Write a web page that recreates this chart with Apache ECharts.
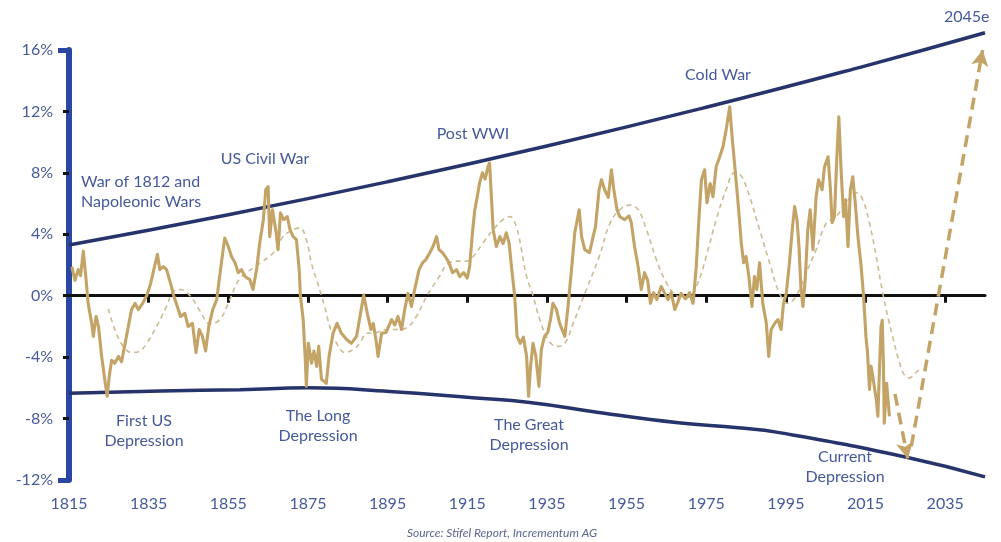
<!DOCTYPE html>
<html>
<head>
<meta charset="utf-8">
<script src="https://cdn.jsdelivr.net/npm/echarts@6/dist/echarts.min.js"></script>
<style>
  html, body { margin: 0; padding: 0; background: #ffffff; }
  #chart { width: 1001px; height: 542px; }
</style>
</head>
<body>
<div id="chart"></div>
<script>
// Year labels along the bottom and tick marks on the zero line
const yearLabels = [1815, 1835, 1855, 1875, 1895, 1915, 1935, 1955, 1975, 1995, 2015, 2035];
const zeroLineTicks = [1835, 1855, 1875, 1895, 1915, 1935, 1955, 1975, 1995, 2015, 2035];

// Cycle readings, [year, %]
const cycleReadings = [
  [1815.7, 1.9], [1816.5, 1.0], [1817.3, 1.7], [1817.9, 1.3], [1818.6, 2.9], [1819.3, 1.0],
  [1819.8, -0.5], [1820.7, -1.8], [1821.1, -2.65], [1821.8, -1.35], [1822.4, -2.0], [1823.2, -3.95],
  [1824.0, -5.5], [1824.6, -6.55], [1825.1, -5.25], [1825.7, -4.2], [1826.5, -4.4], [1827.4, -3.95],
  [1828.2, -4.3], [1829.1, -3.1], [1829.9, -2.0], [1830.7, -0.9], [1831.6, -0.5], [1832.4, -0.9],
  [1833.5, -0.5], [1834.5, 0.0], [1835.5, 0.8], [1836.3, 1.7], [1837.2, 2.7], [1837.8, 1.7],
  [1838.7, 1.9], [1839.5, 1.7], [1840.5, 0.8], [1841.3, 0.0], [1842.2, -0.7], [1843.0, -1.35],
  [1844.1, -1.15], [1844.9, -2.0], [1846.0, -1.8], [1846.9, -3.7], [1847.7, -2.2], [1848.5, -2.65],
  [1849.3, -3.6], [1850.1, -2.0], [1851.1, -0.9], [1852.1, -0.25], [1852.7, 1.0], [1853.6, 2.8],
  [1854.1, 3.75], [1855.0, 3.2], [1855.8, 2.55], [1856.7, 2.15], [1857.5, 1.5], [1858.3, 1.7],
  [1859.2, 1.25], [1860.4, 1.05], [1861.2, 0.4], [1862.1, 1.7], [1862.9, 3.45], [1863.8, 4.95],
  [1864.4, 6.9], [1865.0, 7.1], [1865.4, 3.85], [1866.1, 5.6], [1866.9, 4.3], [1867.5, 3.0],
  [1868.1, 5.4], [1868.9, 4.95], [1869.8, 5.15], [1870.5, 4.3], [1871.3, 3.85], [1872.1, 3.65],
  [1872.8, 1.7], [1873.1, 0.0], [1873.8, -1.55], [1874.3, -4.0], [1874.6, -5.9], [1875.1, -3.1],
  [1875.9, -4.4], [1876.5, -3.6], [1877.2, -4.6], [1877.7, -3.3], [1878.4, -5.45], [1879.6, -5.7],
  [1880.3, -3.95], [1881.3, -2.45], [1882.3, -1.8], [1883.4, -2.45], [1884.7, -2.85], [1885.9, -3.1],
  [1887.2, -2.65], [1888.2, -1.15], [1889.0, 0.05], [1889.9, -1.15], [1890.8, -2.2], [1891.4, -1.8],
  [1892.2, -3.1], [1892.6, -3.95], [1893.5, -2.45], [1894.6, -2.4], [1896.0, -1.55], [1896.8, -1.9],
  [1897.6, -1.35], [1898.5, -2.2], [1899.3, -0.9], [1900.1, 0.15], [1901.0, -0.7], [1901.8, 0.4],
  [1902.9, 1.7], [1903.8, 2.15], [1904.6, 2.35], [1905.6, 2.8], [1906.4, 3.2], [1907.3, 3.85],
  [1907.9, 3.0], [1908.8, 2.8], [1909.6, 2.5], [1910.4, 2.15], [1911.3, 1.5], [1912.3, 1.7],
  [1913.1, 1.25], [1914.1, 1.5], [1915.0, 1.15], [1915.6, 1.9], [1916.3, 4.1], [1916.9, 5.6],
  [1917.5, 6.45], [1918.1, 7.35], [1918.8, 8.0], [1919.5, 7.6], [1920.2, 8.4], [1920.6, 8.65],
  [1921.1, 6.25], [1921.5, 4.3], [1922.3, 3.2], [1923.2, 3.85], [1924.0, 3.4], [1924.8, 4.1],
  [1925.5, 3.45], [1926.1, 1.9], [1926.9, 0.0], [1927.5, -2.65], [1928.3, -3.1], [1929.1, -2.7],
  [1929.9, -3.95], [1930.4, -6.55], [1930.9, -4.6], [1931.5, -3.1], [1932.2, -3.9], [1933.0, -5.9],
  [1933.6, -3.5], [1934.4, -2.65], [1935.2, -2.4], [1935.9, -1.55], [1936.5, -0.5], [1937.4, -0.9],
  [1938.2, -1.8], [1939.5, -2.65], [1940.3, -0.7], [1941.1, 1.5], [1942.0, 4.1], [1943.1, 5.6],
  [1943.7, 3.85], [1944.5, 3.0], [1945.7, 2.8], [1946.6, 3.85], [1947.2, 4.5], [1948.1, 6.9],
  [1948.7, 7.55], [1949.5, 6.9], [1950.4, 6.4], [1951.2, 8.2], [1951.8, 6.9], [1952.6, 5.6],
  [1953.3, 5.15], [1954.5, 4.95], [1955.6, 5.2], [1956.2, 4.75], [1957.0, 3.2], [1957.9, 1.9],
  [1958.7, 0.4], [1959.5, 1.5], [1960.3, 1.0], [1961.0, -0.5], [1961.8, 0.2], [1962.6, -0.25],
  [1963.7, 0.6], [1964.5, 0.2], [1965.4, -0.25], [1966.2, 0.2], [1967.1, -0.9], [1967.9, -0.4],
  [1968.7, 0.15], [1969.8, -0.2], [1970.8, 0.2], [1971.7, -0.5], [1972.5, 1.9], [1973.2, 5.15],
  [1973.8, 7.55], [1974.6, 8.2], [1975.2, 6.05], [1976.0, 7.3], [1976.7, 6.45], [1977.5, 8.4],
  [1978.4, 9.05], [1979.2, 9.7], [1980.0, 10.8], [1980.9, 12.3], [1981.5, 10.35], [1982.1, 8.65],
  [1983.0, 6.05], [1983.8, 3.45], [1984.4, 2.15], [1985.0, 2.55], [1985.7, 1.25], [1986.5, -0.7],
  [1987.1, 1.25], [1987.7, 0.4], [1988.4, 2.15], [1989.2, -0.5], [1990.1, -1.8], [1990.7, -3.95],
  [1991.3, -2.2], [1992.2, -1.8], [1993.0, -1.55], [1993.8, -2.2], [1994.4, -0.5], [1995.1, 0.15],
  [1995.9, 2.15], [1996.6, 4.3], [1997.2, 5.8], [1997.8, 4.95], [1998.3, 3.2], [1998.8, 0.4],
  [1999.3, -0.7], [1999.9, 1.25], [2000.5, 4.3], [2001.1, 5.6], [2001.8, 3.0], [2002.6, 6.45],
  [2003.2, 7.55], [2004.1, 6.9], [2004.7, 8.4], [2005.6, 9.05], [2006.2, 6.9], [2006.6, 4.75],
  [2007.2, 5.15], [2007.8, 9.05], [2008.3, 11.65], [2008.9, 8.0], [2009.5, 5.15], [2010.0, 6.25],
  [2010.6, 3.2], [2011.2, 6.9], [2011.8, 7.75], [2012.5, 5.8], [2013.1, 3.85], [2013.9, 1.9],
  [2014.5, 0.0], [2015.1, -2.65], [2015.5, -3.7], [2016.0, -6.1], [2016.4, -4.6], [2016.8, -5.2],
  [2017.3, -6.1], [2017.7, -6.75], [2018.1, -7.85], [2018.5, -4.8], [2018.9, -2.0], [2019.2, -1.6],
  [2019.5, -4.5], [2019.7, -8.3], [2020.3, -5.7], [2021.0, -7.85]
];

// Smoothed cycle, [year, %]
const smoothedCycle = [
  [1824.9, -0.85], [1826.5, -2.2], [1828.6, -3.3], [1830.7, -3.7], [1832.8, -3.6], [1834.5, -3.1],
  [1837.0, -2.0], [1839.5, -0.7], [1841.2, 0.3], [1842.9, 0.4], [1845.4, 0.0], [1847.9, -1.0],
  [1850.4, -1.85], [1852.9, -1.55], [1855.4, -0.25], [1857.9, 1.1], [1862.9, 2.1], [1866.3, 2.8],
  [1868.8, 3.85], [1871.3, 4.3], [1873.0, 4.4], [1874.6, 3.65], [1875.9, 2.1], [1877.2, 1.0],
  [1878.4, 0.0], [1879.2, -0.7], [1880.5, -2.0], [1882.2, -3.1], [1884.3, -3.7], [1886.4, -3.5],
  [1888.0, -3.1], [1889.7, -2.45], [1892.2, -2.4], [1894.7, -2.2], [1897.2, -2.2], [1899.7, -2.1],
  [1902.2, -1.35], [1904.9, 0.0], [1908.1, 1.3], [1909.8, 2.0], [1912.3, 2.25], [1914.8, 2.25],
  [1916.5, 2.55], [1919.0, 3.45], [1921.5, 4.3], [1924.0, 4.95], [1925.7, 5.15], [1927.3, 4.5],
  [1928.6, 3.0], [1929.9, 1.25], [1931.5, 0.0], [1933.2, -1.55], [1935.3, -2.85], [1937.4, -3.3],
  [1939.5, -3.1], [1941.6, -1.8], [1944.9, 0.4], [1948.2, 2.6], [1950.8, 4.7], [1953.3, 5.6],
  [1955.8, 5.9], [1957.9, 5.6], [1960.0, 4.3], [1962.5, 2.35], [1965.0, 0.85], [1967.5, 0.0],
  [1970.0, -0.15], [1972.5, 0.6], [1975.0, 2.55], [1977.5, 4.95], [1980.0, 6.9], [1982.1, 8.0],
  [1983.8, 7.8], [1985.9, 6.45], [1988.4, 4.3], [1990.9, 2.15], [1993.4, 0.15], [1995.5, -0.5],
  [1997.6, 0.0], [2000.1, 1.5], [2002.6, 3.0], [2005.1, 4.7], [2007.6, 5.15], [2010.1, 6.05],
  [2012.7, 6.7], [2014.3, 6.25], [2016.0, 4.7], [2017.7, 2.55], [2019.3, 0.2], [2021.8, -2.65],
  [2024.4, -5.0], [2026.0, -5.35], [2027.7, -5.0], [2029.0, -4.7]
];

// Upper and lower envelope, [year, %]
const upperBound = [[1815, 3.3], [1855, 5.27], [1895, 7.42], [1935, 9.75], [1975, 12.27], [2015, 14.97], [2045, 17.12]];
const lowerBound = [
  [1815, -6.35], [1838, -6.2], [1858, -6.12], [1875, -6.0], [1895.5, -6.23], [1916.4, -6.64],
  [1930.7, -6.95], [1948, -7.6], [1968, -8.27], [1983, -8.6], [1993, -8.9], [2025, -10.5], [2045, -11.8]
];

// Projected swings: down into the trough, then up to 2045
const forecastDown = [[2022.4, -6.4], [2025.6, -10.6]];
const forecastUp = [[2026.5, -9.8], [2044.4, 16.0]];

const GOLD = '#C3A466';
const GOLD_LIGHT = '#CDBB93';
const NAVY = '#27336B';
const AXIS_BLUE = '#2B46A3';
const TEXT = '#45599B';
const FONT = 'Lato, "Open Sans", sans-serif';

const chart = echarts.init(document.getElementById('chart'), null, { renderer: 'canvas' });

function note(text, x, y, align) {
  return {
    type: 'text', x: x, y: y, z: 20, silent: true,
    style: {
      text: text, fill: TEXT, font: '16px ' + FONT,
      textAlign: align || 'center', textVerticalAlign: 'middle', lineHeight: 20
    }
  };
}

const option = {
  animation: false,
  backgroundColor: '#ffffff',
  grid: { left: 69, right: 16, top: 50, bottom: 62, containLabel: false },
  xAxis: [
    {
      type: 'value', min: 1815, max: 2045, position: 'bottom',
      axisLine: { show: false }, axisTick: { show: false }, splitLine: { show: false },
      axisLabel: {
        customValues: yearLabels, color: TEXT, fontSize: 16, fontFamily: FONT, margin: 16,
        formatter: v => String(v)
      }
    },
    {
      type: 'value', min: 1815, max: 2045, position: 'bottom',
      axisLine: { show: true, onZero: true, onZeroAxisIndex: 0, lineStyle: { color: '#111111', width: 3 } },
      axisTick: { show: true, customValues: zeroLineTicks, inside: false, length: 7, lineStyle: { color: '#111111', width: 3 } },
      axisLabel: { show: false }, splitLine: { show: false }
    }
  ],
  yAxis: [
    {
      type: 'value', min: -12, max: 16, interval: 4, position: 'left',
      axisLine: { show: true, lineStyle: { color: AXIS_BLUE, width: 6 } },
      axisTick: { show: true, length: 6, lineStyle: { color: '#111111', width: 3 } },
      axisLabel: { color: TEXT, fontSize: 16, fontFamily: FONT, margin: 16, formatter: v => v + '%' },
      splitLine: { show: false }
    },
    {
      type: 'value', min: -12, max: 16, interval: 28, position: 'left',
      axisLine: { show: false },
      axisTick: { show: true, length: 11, lineStyle: { color: AXIS_BLUE, width: 5 } },
      axisLabel: { show: false }, splitLine: { show: false }
    }
  ],
  series: [
    {
      name: 'Upper bound', type: 'line', data: upperBound, smooth: true, symbol: 'none', z: 3,
      clip: false, lineStyle: { color: NAVY, width: 3.5 }, silent: true
    },
    {
      name: 'Lower bound', type: 'line', data: lowerBound, smooth: true, symbol: 'none', z: 3,
      clip: false, lineStyle: { color: NAVY, width: 3.5 }, silent: true
    },
    {
      name: 'Smoothed cycle', type: 'line', data: smoothedCycle, smooth: 0.4, symbol: 'none', z: 4,
      lineStyle: { color: GOLD_LIGHT, width: 1.6, type: [5, 4] }, silent: true
    },
    {
      name: 'Cycle', type: 'line', data: cycleReadings, symbol: 'none', z: 5,
      lineStyle: { color: GOLD, width: 3.1, join: 'round' }, silent: true
    },
    {
      name: 'Forecast', type: 'line', data: [], symbol: 'none', z: 6, silent: true,
      markLine: {
        silent: true, animation: false,
        symbol: ['none', 'arrow'], symbolSize: [13, 16],
        label: { show: false },
        lineStyle: { color: GOLD, width: 3.5, type: [12, 7] },
        data: [
          [{ coord: forecastDown[0] }, { coord: forecastDown[1] }],
          [{ coord: forecastUp[0] }, { coord: forecastUp[1] }]
        ]
      }
    }
  ],
  graphic: [
    note('War of 1812 and\nNapoleonic Wars', 81, 192, 'left'),
    note('US Civil War', 265, 159),
    note('Post WWI', 473, 134),
    note('Cold War', 718, 75),
    note('2045e', 944, 17, 'left'),
    note('First US\nDepression', 144, 431),
    note('The Long\nDepression', 318, 426),
    note('The Great\nDepression', 529, 435),
    note('Current\nDepression', 845, 467),
    {
      type: 'text', x: 502, y: 533, silent: true,
      style: {
        text: 'Source: Stifel Report, Incrementum AG', fill: '#5B6690',
        font: 'italic 12px ' + FONT, textAlign: 'center', textVerticalAlign: 'middle'
      }
    }
  ]
};

chart.setOption(option);
</script>
</body>
</html>
